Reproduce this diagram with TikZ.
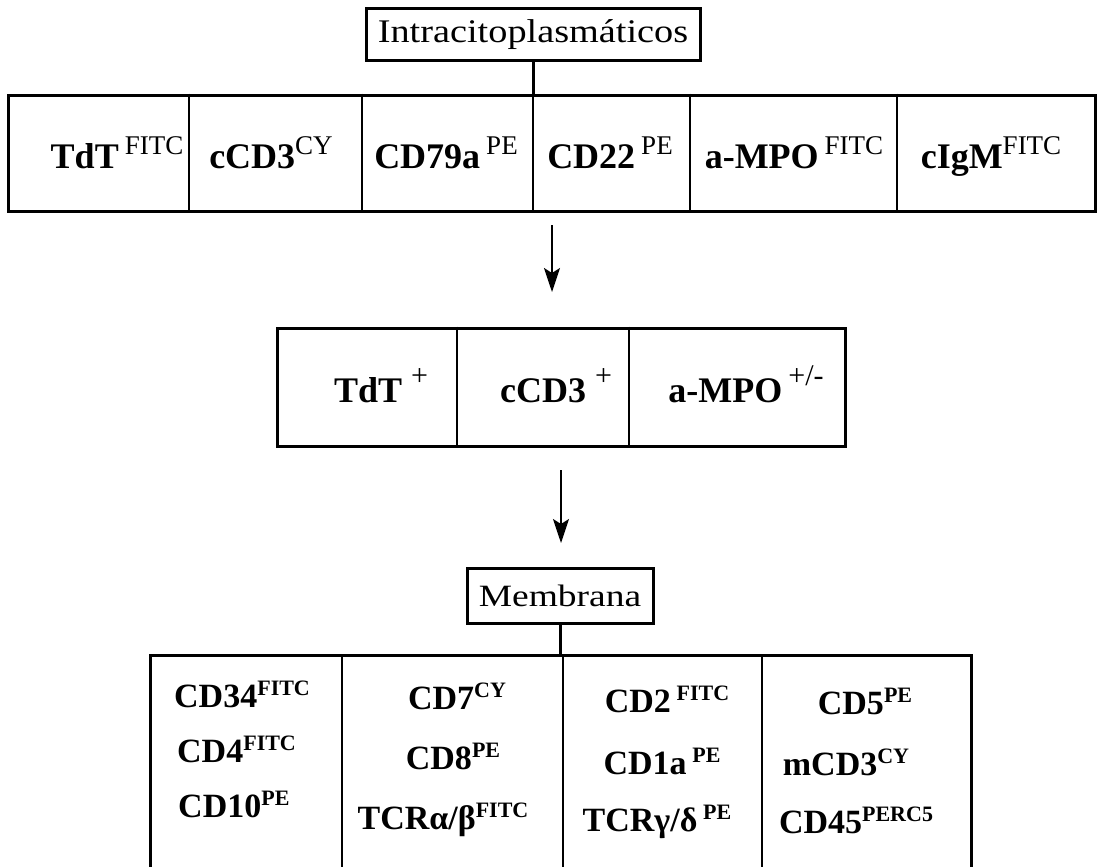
\documentclass[tikz,border=0pt]{standalone}
\usepackage{fontspec}
\setmainfont{Liberation Serif}
\usetikzlibrary{arrows.meta}
\newcommand{\supA}[1]{\raisebox{14pt}{\mdseries\fontsize{27}{27}\selectfont #1}}
\newcommand{\supB}[1]{\raisebox{17pt}{\mdseries\fontsize{30}{30}\selectfont #1}}
\newcommand{\supC}[1]{\raisebox{12pt}{\fontsize{22}{22}\selectfont #1}}
\tikzset{lbl/.style={anchor=base, inner sep=0pt, font=\fontsize{36}{40}\selectfont\bfseries},
 cell/.style={anchor=base, inner sep=0pt, font=\fontsize{34}{38}\selectfont\bfseries},
 headbox/.style={draw, line width=3pt, inner sep=0pt},
 tabframe/.style={draw, line width=3pt},
 divider/.style={line width=1.5pt},
 link/.style={line width=3pt},
 down/.style={line width=1.5pt, -{Stealth[length=24pt, width=16pt, inset=5pt]}},
 }

\begin{document}
\begin{tikzpicture}[x=1pt, y=-1pt]
        \useasboundingbox (0,0) rectangle (1098,867);
        \node[headbox, minimum width=334pt, minimum height=52pt] (intra) at (533,35)
            {\fontsize{33}{36}\selectfont\scalebox{1.16}[1]{Intracitoplasmáticos}};
        \node[tabframe, minimum width=1087pt, minimum height=116pt] (tab1) at (551.5,153) {};
        \draw[link] (intra.south) -- (intra.south |- tab1.north);
        \foreach \x in {189, 362, 690, 897} {
            \draw[divider] (tab1.north -| \x,0) -- (tab1.south -| \x,0);
        }
        \draw[divider] (intra.south |- tab1.north) -- (intra.south |- tab1.south);
        \foreach \x/\t [count=\i] in {117/{TdT\,\supA{FITC}}, 271/{cCD3\supA{CY}}, 446/{CD79a\,\supA{PE}},
            610/{CD22\,\supA{PE}}, 794/{a-MPO\,\supA{FITC}}, 991/{cIgM\supA{FITC}}} {
            \node[lbl] (ic\i) at (\x,168) {\t};
        }
        \coordinate (a1) at (552,225);
        \coordinate (b1) at (552,292);
        \draw[down] (a1) -- (b1);
        \node[tabframe, minimum width=568pt, minimum height=118pt] (tab2) at (561,387) {};
        \foreach \x in {457, 629} {
            \draw[divider] (tab2.north -| \x,0) -- (tab2.south -| \x,0);
        }
        \foreach \x/\t [count=\i] in {381/{TdT\ \supB{+}}, 556/{cCD3\ \supB{+}}, 746/{a-MPO\,\supB{+/-}}} {
            \node[lbl] (res\i) at (\x,402) {\t};
        }
        \coordinate (a2) at (561,470);
        \coordinate (b2) at (561,543);
        \draw[down] (a2) -- (b2);
        \node[headbox, minimum width=186pt, minimum height=55pt] (memb) at (560,595.5)
            {\fontsize{31}{34}\selectfont\scalebox{1.21}[1]{Membrana}};
        \coordinate (tab3) at (560,655);
        \draw[tabframe] (150,867) -- (150,655) -- (971,655) -- (971,867);
        \draw[link] (memb.south) -- (memb.south |- tab3);
        \foreach \x in {342, 563, 762} {
            \draw[divider] (\x,655) -- (\x,867);
        }
        \foreach \x/\y/\t [count=\i] in {174/707/{CD34\supC{FITC}}, 177/762/{CD4\supC{FITC}}, 178/817/{CD10\supC{PE}}} {
            \node[cell, anchor=base west] (ma\i) at (\x,\y) {\t};
        }
        \foreach \x/\y/\t [count=\i] in {457/709/{CD7\supC{CY}}, 453/769/{CD8\supC{PE}}, 443/829/{TCRα/β\supC{FITC}}} {
            \node[cell] (mb\i) at (\x,\y) {\t};
        }
        \foreach \x/\y/\t [count=\i] in {667/712/{CD2\,\supC{FITC}}, 662/774/{CD1a\,\supC{PE}}, 657/831/{TCRγ/δ\,\supC{PE}}} {
            \node[cell] (mc\i) at (\x,\y) {\t};
        }
        \foreach \x/\y/\t [count=\i] in {865/714/{CD5\supC{PE}}, 846/775/{mCD3\supC{CY}}, 856/833/{CD45\supC{PERC5}}} {
            \node[cell] (md\i) at (\x,\y) {\t};
        }
    \end{tikzpicture}
\end{document}
